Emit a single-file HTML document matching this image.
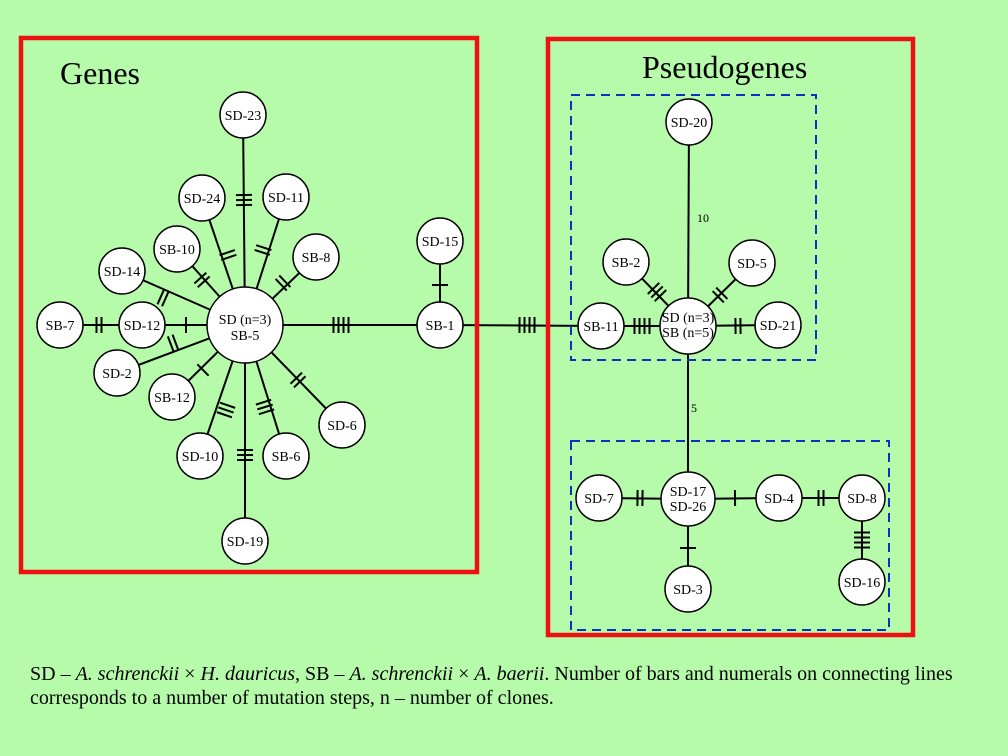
<!DOCTYPE html>
<html><head><meta charset="utf-8"><style>
html,body{margin:0;padding:0;background:#b6fbaa;}
svg{display:block;}
text{font-family:"Liberation Serif",serif;fill:#000;}
.n{font-size:14px;text-anchor:middle;}
</style></head><body>
<svg id="s" width="1008" height="756" viewBox="0 0 1008 756" xmlns="http://www.w3.org/2000/svg">
<rect width="1008" height="756" fill="#b6fbaa"/>
<g id="lines" stroke="#000" stroke-width="2" fill="none"></g>
<rect x="21" y="38" width="456" height="534" fill="none" stroke="#ee1111" stroke-width="4.5"/>
<rect x="548" y="39" width="365" height="596" fill="none" stroke="#ee1111" stroke-width="4.5"/>
<rect x="571" y="95" width="245" height="265" fill="none" stroke="#1030c0" stroke-width="2" stroke-dasharray="9,6"/>
<rect x="571" y="441" width="318" height="189" fill="none" stroke="#1030c0" stroke-width="2" stroke-dasharray="9,6"/>
<g id="nodes" fill="#fff" stroke="#000" stroke-width="1.5"></g>
<text x="60" y="84" font-size="32">Genes</text>
<text x="642" y="78" font-size="32">Pseudogenes</text>
<text x="697" y="222" font-size="12">10</text>
<text x="691" y="412" font-size="12">5</text>
<g class="n">
<text x="243" y="120" class="n">SD-23</text>
<text x="202" y="203" class="n">SD-24</text>
<text x="286" y="202" class="n">SD-11</text>
<text x="177" y="254" class="n">SB-10</text>
<text x="316" y="262" class="n">SB-8</text>
<text x="122" y="276" class="n">SD-14</text>
<text x="60" y="330" class="n">SB-7</text>
<text x="142" y="330" class="n">SD-12</text>
<text x="245" y="324" class="n">SD (n=3)</text>
<text x="245" y="340" class="n">SB-5</text>
<text x="117" y="378" class="n">SD-2</text>
<text x="172" y="402" class="n">SB-12</text>
<text x="200" y="461" class="n">SD-10</text>
<text x="286" y="461" class="n">SB-6</text>
<text x="342" y="430" class="n">SD-6</text>
<text x="245" y="546" class="n">SD-19</text>
<text x="440" y="246" class="n">SD-15</text>
<text x="440" y="330" class="n">SB-1</text>
<text x="689" y="127" class="n">SD-20</text>
<text x="626" y="267" class="n">SB-2</text>
<text x="752" y="268" class="n">SD-5</text>
<text x="601" y="331" class="n">SB-11</text>
<text x="688" y="322" class="n">SD (n=3)</text>
<text x="688" y="337" class="n">SB (n=5)</text>
<text x="778" y="330" class="n">SD-21</text>
<text x="688" y="496" class="n">SD-17</text>
<text x="688" y="511" class="n">SD-26</text>
<text x="599" y="503" class="n">SD-7</text>
<text x="779" y="503" class="n">SD-4</text>
<text x="862" y="503" class="n">SD-8</text>
<text x="862" y="587" class="n">SD-16</text>
<text x="688" y="594" class="n">SD-3</text>
</g>
<text x="30" y="680" font-size="20">SD – <tspan font-style="italic">A. schrenckii</tspan> × <tspan font-style="italic">H. dauricus</tspan>, SB – <tspan font-style="italic">A. schrenckii</tspan> × <tspan font-style="italic">A. baerii</tspan>. Number of bars and numerals on connecting lines</text>
<text x="30" y="704" font-size="20">corresponds to a number of mutation steps, n – number of clones.</text>
</svg>
<script>
var NS="http://www.w3.org/2000/svg";
var L=document.getElementById('lines'),N=document.getElementById('nodes');
function el(p,t,a){var e=document.createElementNS(NS,t);for(var k in a)e.setAttribute(k,a[k]);p.appendChild(e);return e;}
function node(x,y,r){el(N,'circle',{cx:x,cy:y,r:r});}
function edge(a,b,n,px,py){
 el(L,'line',{x1:a[0],y1:a[1],x2:b[0],y2:b[1]});
 if(!n)return;
 var dx=b[0]-a[0],dy=b[1]-a[1],d=Math.hypot(dx,dy);dx/=d;dy/=d;
 var nx=-dy,ny=dx;
 for(var i=0;i<n;i++){var o=(i-(n-1)/2)*5;var cx=px+dx*o,cy=py+dy*o;
  el(L,'line',{x1:cx+nx*8,y1:cy+ny*8,x2:cx-nx*8,y2:cy-ny*8});}
}
var C=[245,325];
edge(C,[243,115],3,244,200);
edge(C,[202,198],2,228,255);
edge(C,[286,197],2,263,250);
edge(C,[177,249],2,202,280);
edge(C,[316,257],2,283,283);
edge(C,[122,271],2,163,298);
edge([60,325],[142,325],2,99,325);
edge([142,325],C,1,186,325);
edge(C,[117,373],2,173,343);
edge(C,[172,397],1,203,370);
edge(C,[440,325],4,341,325);
edge(C,[342,425],2,298,380);
edge(C,[200,456],3,226,410);
edge(C,[286,456],3,265,407);
edge(C,[245,541],3,245,455);
edge([440,241],[440,325],1,440,285);
edge([440,325],[601,326],4,527,325);
var R=[688,326];
edge(R,[689,122],0);
edge(R,[626,262],3,657,292);
edge(R,[752,263],2,720,295);
edge(R,[601,326],4,642,326);
edge(R,[778,325],2,738,326);
edge(R,[688,499],0);
var Q=[688,499];
edge(Q,[599,498],2,640,498);
edge(Q,[779,498],1,735,498);
edge([779,498],[862,498],2,821,498);
edge([862,498],[862,582],4,862,540);
edge(Q,[688,589],1,688,548);
[[243,115],[202,198],[286,197],[177,249],[316,257],[122,271],[60,325],[142,325],[117,373],[172,397],[200,456],[286,456],[342,425],[245,541],[440,241],[440,325],
 [689,122],[626,262],[752,263],[601,326],[778,325],[599,498],[779,498],[862,498],[862,582],[688,589]].forEach(function(p){node(p[0],p[1],23);});
node(245,325,38);node(688,326,28);node(688,499,27);
</script>
</body></html>
